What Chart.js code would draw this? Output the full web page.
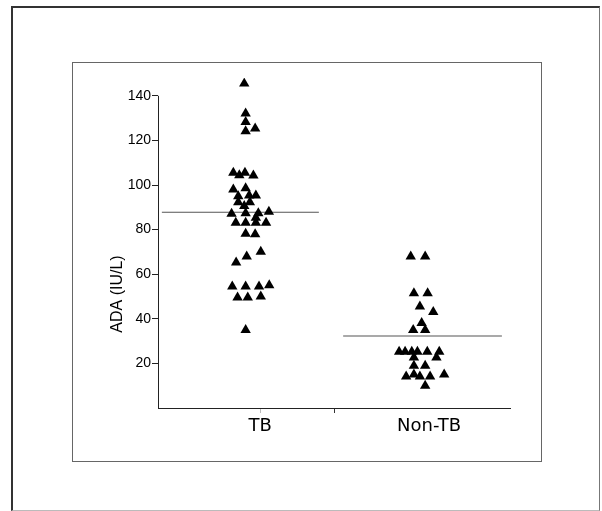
<!DOCTYPE html>
<html>
<head>
<meta charset="utf-8">
<script src="https://cdn.jsdelivr.net/npm/chart.js@4.4.0/dist/chart.umd.min.js"></script>
<style>
  body { margin: 0; background: #fff; }
  .outer { position: absolute; left: 11px; top: 6px; width: 589px; height: 505px; box-sizing: border-box;
           border-left: 2px solid #333; border-top: 2px solid #333; border-right: 1px solid #777; border-bottom: 1px solid #bbb; }
  .inner { position: absolute; left: 72px; top: 62px; width: 470px; height: 400px; box-sizing: border-box; border: 1px solid #666; }
  #chart { position: absolute; left: 0; top: 0; }
</style>
</head>
<body>
<div class="outer"></div>
<div class="inner"></div>
<canvas id="chart" width="602" height="511"></canvas>
<script>
// groups, and where they sit on the (hidden) 0-100 x scale
const categories = ['TB', 'Non-TB']
const categoryPos = [29, 77]
const dividerPos = 50
const yTicks = [20, 40, 60, 80, 100, 120, 140]
const yTop = 140
const yTitle = 'ADA (IU/L)'

// TB values (ADA, IU/L) and their jitter positions
const tbX = [24.5, 24.9, 24.9, 24.9, 27.6, 21.4, 23.1, 24.7, 27.1, 21.4,
             24.9, 22.8, 25.9, 27.8, 22.8, 26.1, 24.5, 20.9, 24.9, 28.5,
             31.5, 27.8, 22.1, 24.9, 27.8, 30.7, 24.9, 27.6, 22.2, 25.2,
             29.2, 21.1, 24.9, 28.7, 31.6, 22.6, 25.5, 29.2, 24.9]
const tbY = [145.5, 132.1, 128.3, 124.1, 125.3, 105.5, 104.4, 105.5, 104.3, 98.0,
             98.5, 95.0, 95.3, 95.3, 92.3, 92.3, 90.6, 87.1, 87.3, 87.3,
             88.0, 85.3, 83.1, 83.1, 83.1, 83.1, 78.2, 77.9, 65.2, 67.9,
             70.1, 54.5, 54.5, 54.5, 55.1, 49.6, 49.6, 50.0, 35.0]

// Non-TB values
const nonX = [71.8, 75.9, 72.7, 76.6, 74.4, 78.2, 74.9, 72.5, 75.9,
              68.5, 70.2, 72.1, 73.7, 76.5, 79.9, 72.7, 79.1, 72.7, 75.9,
              70.5, 72.7, 74.4, 77.3, 81.3, 75.9]
const nonY = [67.9, 67.9, 51.5, 51.5, 45.5, 43.1, 38.1, 35.0, 35.0,
              25.2, 25.2, 25.2, 25.2, 25.2, 25.2, 22.7, 22.7, 19.0, 19.0,
              14.1, 15.0, 14.1, 14.1, 15.0, 10.0]

// group means, drawn as horizontal lines
const means = [87.8, 32.3]
const meanFrom = [1.1, 52.6]
const meanTo = [45.7, 97.7]

const toPoints = (xs, ys) => xs.map((x, i) => ({x: x, y: ys[i]}))

const triangles = (xs, ys) => ({
  type: 'scatter',
  data: toPoints(xs, ys),
  pointStyle: 'triangle',
  pointRadius: 6,
  backgroundColor: '#000',
  borderColor: '#000',
  borderWidth: 0
})

const meanLine = i => ({
  type: 'line',
  data: [{x: meanFrom[i], y: means[i]}, {x: meanTo[i], y: means[i]}],
  borderColor: '#555',
  borderWidth: 1.2,
  pointRadius: 0,
  fill: false
})

// y axis line only up to the top tick, plus the rotated axis title
const axisPlugin = {
  id: 'yAxisBits',
  afterDraw(chart) {
    const c = chart.ctx
    const y = chart.scales.y
    const x0 = chart.chartArea.left
    c.save()
    c.strokeStyle = '#222'
    c.lineWidth = 1
    c.beginPath()
    c.moveTo(x0 + 0.5, y.getPixelForValue(yTop))
    c.lineTo(x0 + 0.5, chart.chartArea.bottom)
    c.stroke()

    c.translate(118, 294)
    c.rotate(-Math.PI / 2)
    c.font = '16px "Liberation Sans", Arial, sans-serif'
    c.fillStyle = '#000'
    c.textAlign = 'center'
    c.textBaseline = 'middle'
    c.fillText(yTitle, 0, 0)
    c.restore()
  }
}

const ctx = document.getElementById('chart').getContext('2d')

const myChart = new Chart(ctx, {
  data: {
    datasets: [triangles(tbX, tbY), triangles(nonX, nonY), meanLine(0), meanLine(1)]
  },
  options: {
    responsive: false,
    animation: false,
    layout: { padding: { left: 98, top: 78, right: 92, bottom: 73 } },
    plugins: { legend: { display: false }, tooltip: { enabled: false } },
    scales: {
      x: {
        type: 'linear',
        min: 0,
        max: 100,
        afterFit: s => { s.height = 30 },
        afterBuildTicks: s => {
          s.ticks = [{value: categoryPos[0]}, {value: dividerPos}, {value: categoryPos[1]}]
        },
        ticks: {
          autoSkip: false,
          maxRotation: 0,
          padding: 3,
          color: '#000',
          font: { family: '"DejaVu Sans", sans-serif', size: 18 },
          callback: v => {
            const i = categoryPos.indexOf(v)
            return i >= 0 ? categories[i] : ''
          }
        },
        grid: {
          drawOnChartArea: false,
          tickLength: 5,
          tickColor: c => c.tick && c.tick.value === dividerPos ? '#333'
                       : (c.tick && c.tick.value === categoryPos[0] ? '#bbb' : 'rgba(0,0,0,0)')
        },
        border: { color: '#222', width: 1 }
      },
      y: {
        min: 0,
        max: 148,
        afterFit: s => { s.width = 60 },
        afterBuildTicks: s => { s.ticks = yTicks.map(v => ({value: v})) },
        ticks: {
          padding: 1,
          color: '#000',
          font: { family: '"Liberation Sans", Arial, sans-serif', size: 14 }
        },
        grid: { drawOnChartArea: false, tickLength: 6, tickColor: '#222' },
        border: { display: false }
      }
    }
  },
  plugins: [axisPlugin]
})
</script>
</body>
</html>
